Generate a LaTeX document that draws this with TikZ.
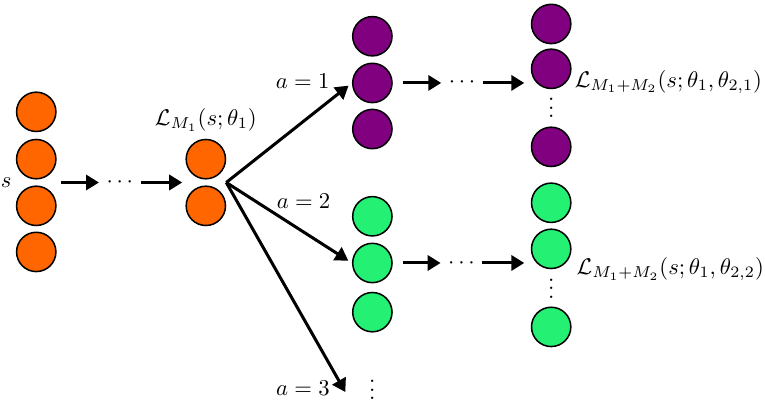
\RequirePackage{fix-cm}
\documentclass[tikz,border=0pt]{standalone}
\usetikzlibrary{positioning,calc,arrows.meta}
\definecolor{nodeorange}{RGB}{255,102,0}
\definecolor{nodepurple}{RGB}{128,0,128}
\definecolor{nodegreen}{RGB}{36,240,116}
\tikzset{
  neuron/.style={circle, draw=black, line width=0.7pt, minimum size=0.64cm, inner sep=0pt},
  flow/.style={line width=1.4pt, -{Triangle[length=6pt,width=7pt]}},
  vdotsnode/.style={inner sep=0pt},
}

\begin{document}
\begin{tikzpicture}[font=\fontsize{10.5}{12.6}\selectfont]
\useasboundingbox (0,0) rectangle (12.45,-6.56);
% input layer
\node[neuron, fill=nodeorange] (l1) at (0.59,-1.82) {};
\node[neuron, fill=nodeorange] (l2) at (0.59,-2.59) {};
\node[neuron, fill=nodeorange] (l3) at (0.59,-3.35) {};
\node[neuron, fill=nodeorange] (l4) at (0.59,-4.10) {};
\node (s) at (0.10,-2.97) {$s$};
% shared part
\node (d1) at (1.95,-2.97) {$\cdots$};
\node[neuron, fill=nodeorange] (m1) at (3.35,-2.59) {};
\node[neuron, fill=nodeorange] (m2) at (3.35,-3.35) {};
\node[above=0pt of m1] (lm1) {$\mathcal{L}_{M_1}(s;\theta_1)$};
\draw[flow, shorten <=2pt] ($(l2.east)!0.5!(l3.east)$) -- (d1.west);
\draw[flow, shorten >=1.5pt] (d1.east) -- ($(m1.west)!0.5!(m2.west)$);
% head a=1
\node[neuron, fill=nodepurple] (p1) at (6.06,-0.59) {};
\node[neuron, fill=nodepurple] (p2) at (6.06,-1.35) {};
\node[neuron, fill=nodepurple] (p3) at (6.06,-2.10) {};
\node (pd) at (7.52,-1.35) {$\cdots$};
\node[neuron, fill=nodepurple] (q1) at (8.97,-0.39) {};
\node[neuron, fill=nodepurple] (q2) at (8.97,-1.12) {};
\node[vdotsnode] (qv) at (8.97,-1.65) {$\vdots$};
\node[neuron, fill=nodepurple] (q3) at (8.97,-2.39) {};
\node[anchor=west] (lq) at (9.23,-1.335) {$\mathcal{L}_{M_1+M_2}(s;\theta_1,\theta_{2,1})$};
\draw[flow, shorten <=4.5pt] (p2.east) -- (pd.west);
\draw[flow, shorten >=3pt] (pd.east) -- (pd.east -| q2.west);
% head a=2
\node[neuron, fill=nodegreen] (g1) at (6.06,-3.52) {};
\node[neuron, fill=nodegreen] (g2) at (6.06,-4.28) {};
\node[neuron, fill=nodegreen] (g3) at (6.06,-5.08) {};
\node (gd) at (7.51,-4.28) {$\cdots$};
\node[neuron, fill=nodegreen] (h1) at (8.97,-3.30) {};
\node[neuron, fill=nodegreen] (h2) at (8.97,-4.05) {};
\node[vdotsnode] (hv) at (8.97,-4.59) {$\vdots$};
\node[neuron, fill=nodegreen] (h3) at (8.97,-5.32) {};
\node[anchor=west] (lh) at (9.26,-4.38) {$\mathcal{L}_{M_1+M_2}(s;\theta_1,\theta_{2,2})$};
\draw[flow, shorten <=4.5pt] (g2.east) -- (gd.west);
\draw[flow, shorten >=3pt] (gd.east) -- (gd.east -| h2.west);
% head a=3
\node[vdotsnode] (gv) at (6.06,-6.24) {$\vdots$};
\coordinate (t3) at (5.62,-6.38);
% branches
\coordinate (br) at ($(m1.east)!0.5!(m2.east)$);
\draw[flow, shorten >=2pt] (br) -- (p2.west);
\draw[flow, shorten >=2pt] (br) -- (g2.west);
\draw[flow] (br) -- (t3);
\node (a1) at (4.925,-1.32) {$a=1$};
\node (a2) at (4.94,-3.27) {$a=2$};
\node (a3) at (4.93,-6.32) {$a=3$};
\end{tikzpicture}
\end{document}
